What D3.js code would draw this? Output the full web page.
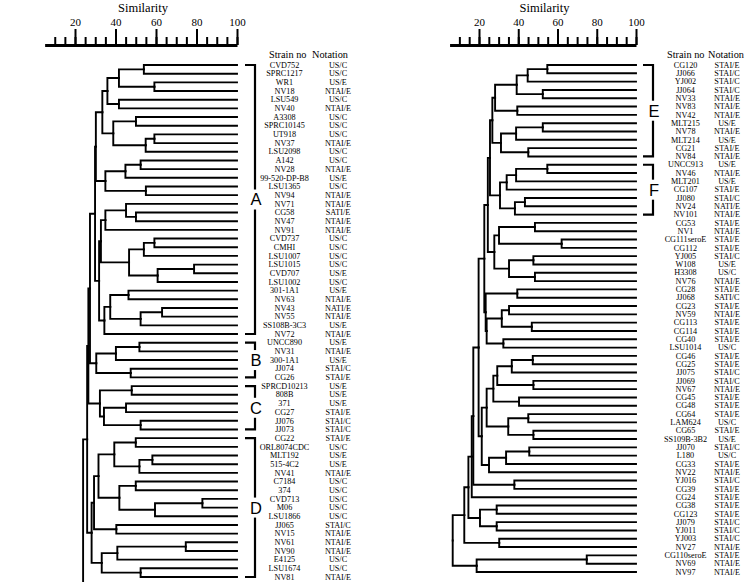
<!DOCTYPE html>
<html><head><meta charset="utf-8">
<script src="https://cdn.jsdelivr.net/npm/d3@7"></script>
<style>
body{margin:0;background:#fff}
text{fill:#000}
</style>
</head><body>
<svg id="chart" width="745" height="582"></svg>
<script>
// ---------------- DATA ----------------
const leftStrains = ["CVD752","SPRC1217","WR1","NV18","LSU549","NV40","A3308","SPRC10145","UT918","NV37","LSU2098","A142","NV28","99-520-DP-B8","LSU1365","NV94","NV71","CG58","NV47","NV91","CVD737","CMHI","LSU1007","LSU1015","CVD707","LSU1002","301-1A1","NV63","NV43","NV55","SS108B-3C3","NV72","UNCC890","NV31","300-1A1","JJ074","CG26","SPRCD10213","808B","371","CG27","JJ076","JJ073","CG22","ORL8074CDC","MLT192","515-4C2","NV41","C7184","374","CVD713","M06","LSU1866","JJ065","NV15","NV61","NV90","E4125","LSU1674","NV81"];
const leftNotations = ["US/C","US/C","US/E","NTAI/E","US/C","NTAI/E","US/C","US/C","US/C","NTAI/E","US/C","US/C","NTAI/E","US/E","US/C","NTAI/E","NTAI/E","SATI/E","NTAI/E","NTAI/E","US/C","US/C","US/C","US/C","US/E","US/C","US/E","NTAI/E","NATI/E","NTAI/E","US/E","NTAI/E","US/E","NTAI/E","US/E","STAI/C","STAI/E","US/E","US/E","US/E","STAI/E","STAI/C","STAI/C","STAI/E","US/C","US/E","US/E","NTAI/E","US/C","US/C","US/C","US/C","US/C","STAI/C","NTAI/E","NTAI/E","NTAI/E","US/C","US/C","NTAI/E"];
const rightStrains = ["CG120","JJ066","YJ002","JJ064","NV33","NV83","NV42","MLT215","NV78","MLT214","CG21","NV84","UNCC913","NV46","MLT201","CG107","JJ080","NV24","NV101","CG53","NV1","CG111seroE","CG112","YJ005","W108","H3308","NV76","CG28","JJ068","CG23","NV59","CG113","CG114","CG40","LSU1014","CG46","CG25","JJ075","JJ069","NV67","CG45","CG48","CG64","LAM624","CG65","SS109B-3B2","JJ070","L180","CG33","NV22","YJ016","CG39","CG24","CG38","CG123","JJ079","YJ011","YJ003","NV27","CG110seroE","NV69","NV97"];
const rightNotations = ["STAI/E","STAI/C","STAI/C","STAI/C","NTAI/E","NTAI/E","NTAI/E","US/E","NTAI/E","US/E","STAI/E","NTAI/E","US/E","NTAI/E","US/E","STAI/E","STAI/C","NATI/E","NTAI/E","STAI/E","NTAI/E","STAI/E","STAI/E","STAI/C","US/E","US/C","NTAI/E","STAI/E","SATI/C","STAI/E","NTAI/E","STAI/E","STAI/E","STAI/E","US/C","STAI/E","STAI/E","STAI/C","STAI/C","NTAI/E","STAI/E","STAI/E","STAI/E","US/C","STAI/E","US/E","STAI/C","US/C","STAI/E","NTAI/E","STAI/C","STAI/E","STAI/E","STAI/E","STAI/E","STAI/C","STAI/C","STAI/C","NTAI/E","STAI/E","NTAI/E","NTAI/E"];

const minorTicks = [10,15,20,25,30,35,40,45,50,55,60,65,70,75,80,85,90,95,100];
const majorTicks = [20,40,60,80,100];
const axisTitle = "Similarity";
const headerStrain = "Strain no";
const headerNotation = "Notation";

// Dendrogram merges: [similarity, child, child]; numbers = leaf index
const leftA1 = [33.5, [36, [41.7, [54, 0, 1], [59.2, 2, 3]], [41.7, 4, 5]], [38.9, [50.1, 6, 7], [54.9, [59.2, 8, 9], 10]]];
const leftA2 = [35, [44.9, [52.4, 11, 12], 13], [55, 14, 15]];
const leftA3 = [32.8, [35, [45.2, 16, [50.1, 17, 18]], 19], [46.7, [54, [59.2, 20, 21], 22], [60.8, [78.8, 23, 24], 25]]];
const leftA4 = [34.5, [37.4, [46.4, 26, 27], [52.4, [63, 28, 29], 30]], 31];
const leftA = [29.9, [30.3, leftA1, leftA2], [31.9, leftA3, leftA4]];
const leftB = [30.5, [40.2, [51.8, 32, 33], 34], [47.5, 35, 36]];
const leftC = [32.3, [48, 37, 38], [34.3, [45.2, 39, 40], [52.4, 41, 42]]];
const leftD = [28.2, [29.4, [31.6, [39.4, [50, 43, 44], [51.8, [58.2, 45, 46], 47]], [41.9, [50, 48, 49], [59.5, [82.9, 50, 51], 52]]], [40.4, 53, 54]], [33.2, [40.9, [74.7, 55, 56], 57], [52.4, 58, 59]]];
const leftTree = [26.0, [26.6, [27.4, leftA, leftB], leftC], leftD];
const leftRootStem = 24;   // similarity of the stem below the left tree

const rightE = [26.8, [28.2, [39.2, [44.8, [54.8, 0, 1], 2], [52.5, 3, 4]], [39.5, 5, 6]], [31.2, [38.9, [52.5, 7, 8], 9], [45.1, 10, 11]]];
const rightF = [30.7, [34.1, [38.9, [54.8, 12, 13], 14], 15], [38.3, [43.4, 16, 17], 18]];
const rightX1 = [27.8, [30.2, [48.5, 19, 20], [62.1, 21, 22]], [35.3, [47.7, 23, 24], [48.5, 25, 26]]];
const rightX2 = [23.4, [39.5, 27, 28], [23.9, [31.6, [35.3, 29, 30], [46.9, 31, 32]], [32.4, 33, 34]]];
const rightU = [22.7, [24.5, [25.6, rightE, rightF], rightX1], rightX2];
const rightM = [21.4, [23.9, [27.3, [29.3, [36.7, [47.4, 35, 36], 37], [47.7, 38, 39]], [40.4, 40, 41]], [34.9, [45.1, 42, 43], [47.7, 44, 45]]], [25.1, [33.8, [45.6, 46, 47], 48], 49]];
const rightTree = [6.6, [12.5, [14.6, [16.3, [17.1, [19.8, rightU, rightM], [38, 50, 51]], 52], [20.5, [29, 53, 54], [29, 55, 56]]], [30.3, 57, 58]], [18.8, [74.9, 59, 60], 61]];

const leftGroups = [["A", 0, 31], ["B", 32, 36], ["C", 37, 42], ["D", 43, 59]];
const rightGroups = [["E", 0, 11], ["F", 12, 18]];

// ---------------- DRAW ----------------
const W = 745, H = 582;
const svg = d3.select("#chart");
const serif = "'Liberation Serif','Times New Roman',serif";

function build(node) {
  return typeof node === "number" ? {leaf: node} : {s: node[0], children: node.slice(1).map(build)};
}

function panel(cfg) {
  const g = svg.append("g");
  const xs = d3.scaleLinear().domain([20, 100]).range([cfg.x20, cfg.x100]);
  const n = cfg.strains.length;
  const ys = d3.scaleLinear().domain([0, n - 1]).range([cfg.yTop, cfg.yBot]);

  // axis
  const axScale = d3.scaleLinear().domain([5, 100]).range([xs(5), xs(100)]);
  const axMinor = g.append("g").attr("transform", "translate(0,45)")
    .call(d3.axisTop(axScale).tickValues(minorTicks).tickSize(8).tickSizeOuter(0).tickFormat(""));
  axMinor.select(".domain").attr("stroke-width", 3.2).attr("stroke", "#000");
  axMinor.selectAll(".tick line").attr("stroke-width", 2).attr("stroke", "#000");
  const axMajor = g.append("g").attr("transform", "translate(0,45)")
    .call(d3.axisTop(axScale).tickValues(majorTicks).tickSize(16).tickPadding(3).tickFormat(d3.format("d")));
  axMajor.select(".domain").remove();
  axMajor.selectAll(".tick line").attr("stroke-width", 2).attr("stroke", "#000");
  axMajor.selectAll(".tick text").attr("font-family", serif).attr("font-size", 11).attr("fill", "#000");

  g.append("text").attr("x", xs(60) - 13).attr("y", 12).attr("text-anchor", "middle")
    .attr("font-family", serif).attr("font-size", 12.5).text(axisTitle);

  // headers
  g.append("text").attr("x", cfg.headX).attr("y", 58).attr("font-family", serif).attr("font-size", 10.3).text(headerStrain);
  g.append("text").attr("x", cfg.headX2).attr("y", 58).attr("text-anchor", "end").attr("font-family", serif).attr("font-size", 10.3).text(headerNotation);

  // tree
  const root = d3.hierarchy(build(cfg.tree));
  root.eachAfter(d => {
    if (!d.children) { d.px = xs(100); d.py = ys(d.data.leaf); }
    else { d.px = xs(d.data.s); d.py = (d.children[0].py + d.children[d.children.length - 1].py) / 2; }
  });
  const tg = g.append("g").attr("fill", "none").attr("stroke", "#000").attr("stroke-width", 1.9).attr("stroke-linecap", "square");
  tg.selectAll("path").data(root.links()).join("path")
    .attr("d", l => `M${l.source.px},${l.source.py}V${l.target.py}H${l.target.px}`);
  if (cfg.stem != null) {
    tg.append("path").attr("d", `M${root.px},${root.py}H${xs(cfg.stem)}V${H}`);
  }

  // labels
  const lab = g.append("g").attr("font-family", serif).attr("font-size", 8.2);
  lab.selectAll("text.s").data(cfg.strains).join("text").attr("class", "s")
    .attr("x", cfg.colStrain).attr("y", (d, i) => ys(i)).attr("dy", "0.33em")
    .attr("text-anchor", "middle").text(d => d);
  lab.selectAll("text.n").data(cfg.notations).join("text").attr("class", "n")
    .attr("x", cfg.colNote).attr("y", (d, i) => ys(i)).attr("dy", "0.33em")
    .attr("text-anchor", "middle").text(d => d);

  // brackets
  const bg = g.append("g");
  cfg.groups.forEach(([name, a, b]) => {
    const y0 = ys(a), y1 = ys(b), bx = cfg.bracketX;
    bg.append("path").attr("d", `M${bx - 10},${y0}H${bx}V${y1}H${bx - 10}`)
      .attr("fill", "none").attr("stroke", "#000").attr("stroke-width", 2.2);
    const ym = (y0 + y1) / 2;
    bg.append("rect").attr("x", bx - 7).attr("y", ym - 10).attr("width", 14).attr("height", 20).attr("fill", "#fff");
    bg.append("text").attr("x", bx + 1).attr("y", ym).attr("dy", "0.36em").attr("text-anchor", "middle")
      .attr("font-family", "'Liberation Sans',Arial,sans-serif").attr("font-size", 16.5).text(name);
  });
}

panel({x20: 75, x100: 237, yTop: 65, yBot: 577, tree: leftTree, stem: leftRootStem, strains: leftStrains, notations: leftNotations,
  colStrain: 284.5, colNote: 338, headX: 269, headX2: 348, groups: leftGroups, bracketX: 255});
panel({x20: 479, x100: 636, yTop: 65, yBot: 572, tree: rightTree, strains: rightStrains, notations: rightNotations,
  colStrain: 685.5, colNote: 727, headX: 667, headX2: 744, groups: rightGroups, bracketX: 653});
</script>
</body></html>
